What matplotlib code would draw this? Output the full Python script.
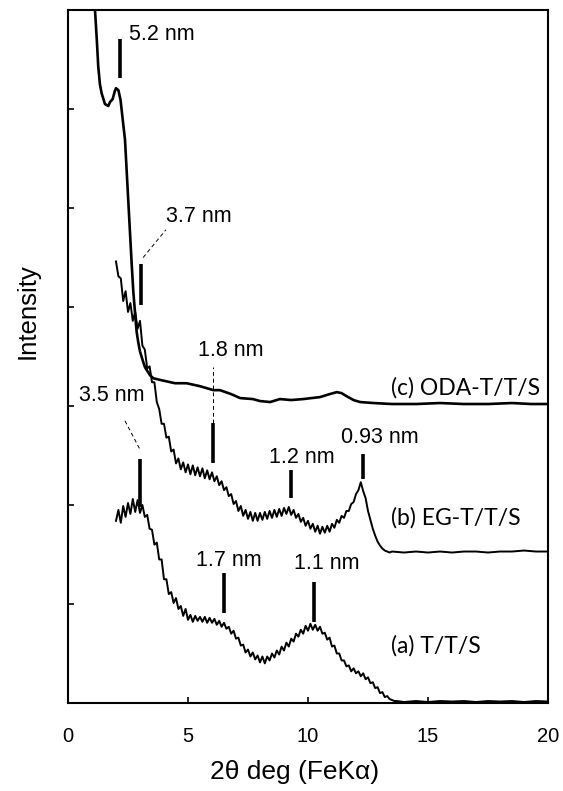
import matplotlib
matplotlib.use("Agg")
import matplotlib.pyplot as plt
import numpy as np

# (a) T/T/S, 2theta step 0.1 from 2.0 to 13.7, then sparse flat tail
a_x = [round(2.0 + 0.1 * i, 1) for i in range(118)] + [14.0, 14.5, 15.0, 15.5, 16.0, 16.5, 17.0, 17.5, 18.0, 18.5, 19.0, 19.5, 20.0]
a_y = [1.84, 1.95, 1.82, 1.99, 1.88, 2.02, 1.91, 2.06, 1.93, 2.05,
       1.92, 2.00, 1.88, 1.90, 1.76, 1.75, 1.60, 1.62, 1.45, 1.45,
       1.25, 1.25, 1.10, 1.12, 1.01, 1.06, 0.95, 0.98, 0.88, 0.95,
       0.84, 0.89, 0.82, 0.88, 0.83, 0.87, 0.82, 0.87, 0.81, 0.86,
       0.81, 0.85, 0.79, 0.83, 0.77, 0.81, 0.75, 0.77, 0.70, 0.73,
       0.65, 0.66, 0.58, 0.59, 0.51, 0.54, 0.47, 0.51, 0.44, 0.48,
       0.41, 0.47, 0.40, 0.47, 0.43, 0.50, 0.46, 0.53, 0.49, 0.57,
       0.53, 0.61, 0.57, 0.65, 0.62, 0.70, 0.67, 0.74, 0.70, 0.78,
       0.73, 0.80, 0.74, 0.79, 0.73, 0.77, 0.70, 0.71, 0.64, 0.66,
       0.57, 0.58, 0.50, 0.50, 0.43, 0.43, 0.37, 0.38, 0.32, 0.35,
       0.30, 0.32, 0.27, 0.30, 0.24, 0.26, 0.20, 0.21, 0.15, 0.16,
       0.10, 0.11, 0.06, 0.07, 0.04, 0.03, 0.02, 0.02,
       0.01, 0.02, 0.01, 0.02, 0.015, 0.02, 0.01, 0.02, 0.015, 0.02, 0.01, 0.02, 0.015]

# (b) EG-T/T/S
b_x = [round(2.0 + 0.1 * i, 1) for i in range(116)] + [14.0, 14.5, 15.0, 15.5, 16.0, 16.5, 17.0, 17.5, 18.0, 18.5, 19.0, 19.5, 20.0]
b_y = [4.46, 4.31, 4.29, 4.06, 4.16, 3.95, 4.04, 3.86, 3.95, 3.78,
       3.86, 3.61, 3.57, 3.38, 3.40, 3.24, 3.24, 3.04, 2.97, 2.82,
       2.82, 2.68, 2.69, 2.54, 2.56, 2.42, 2.47, 2.36, 2.43, 2.33,
       2.41, 2.31, 2.40, 2.30, 2.38, 2.29, 2.37, 2.27, 2.35, 2.26,
       2.33, 2.24, 2.29, 2.20, 2.24, 2.15, 2.18, 2.09, 2.11, 2.01,
       2.04, 1.94, 1.99, 1.89, 1.95, 1.86, 1.93, 1.84, 1.92, 1.84,
       1.92, 1.85, 1.93, 1.86, 1.94, 1.87, 1.95, 1.88, 1.96, 1.89,
       1.97, 1.91, 1.98, 1.90, 1.95, 1.87, 1.91, 1.83, 1.87, 1.79,
       1.84, 1.76, 1.81, 1.73, 1.79, 1.71, 1.78, 1.72, 1.79, 1.73,
       1.81, 1.77, 1.85, 1.82, 1.89, 1.87, 1.94, 1.94, 2.01, 2.03,
       2.11, 2.15, 2.23, 2.14, 2.07, 1.94, 1.85, 1.76, 1.69, 1.63,
       1.59, 1.56, 1.54, 1.53, 1.52, 1.53,
       1.52, 1.53, 1.52, 1.53, 1.52, 1.53, 1.53, 1.52, 1.53, 1.53, 1.54, 1.53, 1.53]

# (c) ODA-T/T/S (smooth, starts above the frame)
c_x = [1.0, 1.125, 1.2, 1.26, 1.33, 1.4, 1.54, 1.68, 1.75, 1.86, 1.95, 2.0, 2.1, 2.19,
       2.3, 2.375, 2.51, 2.65, 2.72, 2.79, 2.86, 2.93, 3.0, 3.14, 3.21, 3.42, 3.56,
       3.9, 4.46, 4.94, 5.5, 6.06, 6.33, 6.8, 7.17, 7.7, 8.0, 8.42, 8.83, 9.3, 9.8,
       10.5, 10.9, 11.2, 11.4, 11.6, 11.9, 12.17, 12.72, 13.5, 14.5, 15.5, 16.5,
       17.5, 18.5, 19.3, 20.0]
c_y = [8.0, 7.0, 6.7, 6.43, 6.25, 6.16, 6.05, 6.03, 6.07, 6.10, 6.18, 6.21, 6.19, 6.09,
       5.85, 5.69, 5.08, 4.45, 4.16, 3.95, 3.75, 3.64, 3.55, 3.44, 3.39, 3.31, 3.28,
       3.26, 3.23, 3.23, 3.20, 3.16, 3.16, 3.12, 3.08, 3.07, 3.05, 3.04, 3.07, 3.06, 3.07,
       3.09, 3.12, 3.14, 3.13, 3.10, 3.06, 3.04, 3.03, 3.02, 3.02, 3.03, 3.02,
       3.02, 3.03, 3.02, 3.02]

sample_labels = ["(a) T/T/S", "(b) EG-T/T/S", "(c) ODA-T/T/S"]

# d-spacing marks: peak position (2theta) and label
peak_pos = [2.18, 3.03, 6.06, 3.0, 9.29, 12.28, 6.51, 10.26]
peak_labels = ["5.2 nm", "3.7 nm", "1.8 nm", "3.5 nm", "1.2 nm", "0.93 nm", "1.7 nm", "1.1 nm"]

x_ticks = [0, 5, 10, 15, 20]

plt.rcParams['font.family'] = ['Liberation Sans', 'DejaVu Sans']

fig = plt.figure(figsize=(5.63, 7.91), dpi=100)
ax = fig.add_axes([68 / 563, 88 / 791, 480 / 563, 693 / 791])

ax.plot(a_x, a_y, color='black', lw=1.4)
ax.plot(b_x, b_y, color='black', lw=1.4)
ax.plot(c_x, c_y, color='black', lw=1.9)

ax.set_xlim(0, 20)
ax.set_ylim(0, 7)
ax.set_xticks(x_ticks)
ax.set_yticks([1, 2, 3, 4, 5, 6])
ax.set_yticklabels([])
ax.tick_params(direction='in', length=4, width=1.2, labelsize=14.5, pad=17)
for sp in ax.spines.values():
    sp.set_linewidth(1.5)

ax.set_xlabel(u"2\u03b8 deg (FeK\u03b1)", fontsize=19, va='center')
ax.xaxis.set_label_coords(0.472, -0.1)
ax.set_ylabel("Intensity", fontsize=18.5, va='center')
ax.yaxis.set_label_coords(-0.085, 0.566)

# bar extents (y), label anchor (x left, y center)
bars = [(6.31, 6.71), (4.02, 4.43), (2.42, 2.83), (1.98, 2.46),
        (2.07, 2.35), (2.26, 2.52), (0.91, 1.31), (0.82, 1.22)]
label_at = [(2.55, 6.75), (4.1, 4.91), (5.42, 3.56), (0.46, 3.11),
            (8.38, 2.48), (11.36, 2.68), (5.32, 1.44), (9.42, 1.41)]
for x, (y0, y1), lab, (tx, ty) in zip(peak_pos, bars, peak_labels, label_at):
    ax.plot([x, x], [y0, y1], color='black', lw=2.6, solid_capstyle='butt')
    ax.text(tx, ty, lab, fontsize=15.5, ha='left', va='center')

# leader lines
ax.plot([3.13, 4.08], [4.5, 4.78], color='black', lw=0.7, ls=(0, (4, 3)))
ax.plot([6.06, 6.06], [2.83, 3.39], color='black', lw=0.7, ls=(0, (4, 3)))
ax.plot([2.375, 3.0], [2.85, 2.56], color='black', lw=0.7, ls=(0, (4, 3)))

for lab, ty in zip(sample_labels, [0.58, 1.87, 3.18]):
    ax.text(13.45, ty, lab, fontsize=16.5, family=['Lato', 'DejaVu Sans'],
            ha='left', va='center')

fig.savefig("out.png", dpi=100)
